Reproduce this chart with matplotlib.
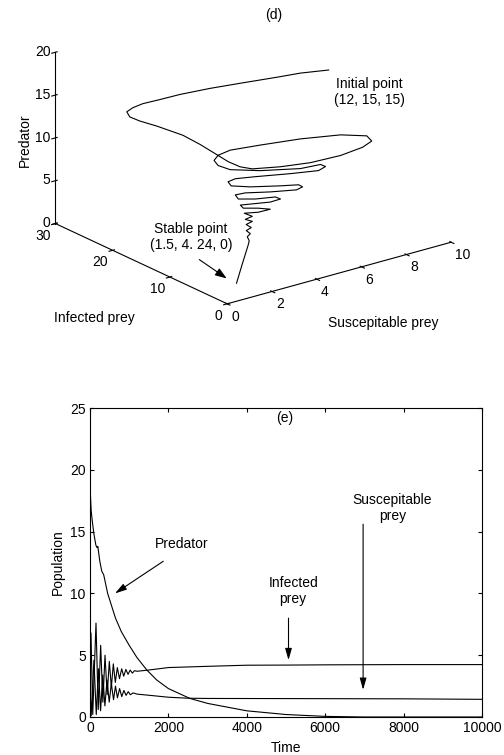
import matplotlib
matplotlib.use("Agg")
import matplotlib.pyplot as plt

plt.rcParams['font.family'] = ['Liberation Sans', 'DejaVu Sans']
plt.rcParams['font.size'] = 10

# (d) phase trajectory: susceptible prey, infected prey, predator
traj_s = [9.19, 8.26, 7.42, 6.11, 5.06, 3.95, 3.18, 2.51, 2.03, 1.67, 1.55, 1.74,
          2.12, 2.61, 2.85, 3.03, 3.17, 3.35, 3.67, 4.64, 5.79, 7.12, 8.28, 8.96,
          9.16, 8.51, 7.19, 5.74, 4.64, 4.02, 3.62, 3.48, 3.62,
          4.51, 5.87, 6.73, 6.80, 6.41, 5.49, 4.37, 3.76, 3.45, 3.34,
          3.90, 4.88, 5.51, 5.55, 5.25, 4.47, 3.78, 3.43, 3.32,
          3.85, 4.59, 4.66, 4.24, 3.61, 3.32, 3.27, 3.74, 4.07, 3.60, 3.20,
          3.29, 2.96, 3.09, 2.78, 2.79, 2.52, 2.50, 2.28, 2.19, 2.02, 1.75, 1.5]
traj_i = [18.22, 19.52, 20.26, 21.63, 22.78, 23.70, 24.20, 24.54, 24.43, 24.06, 23.07, 22.06,
          20.57, 17.94, 15.89, 13.97, 12.21, 10.84, 9.98, 8.85, 8.07, 8.02, 8.73, 9.80,
          11.44, 13.47, 15.32, 16.67, 17.62, 17.30, 16.45, 15.19, 13.64,
          11.86, 10.15, 10.02, 9.42, 9.11, 10.41, 12.17, 13.29, 13.34, 12.38,
          11.20, 9.81, 9.08, 8.54, 8.42, 9.93, 11.63, 12.00, 11.04,
          10.14, 9.53, 8.92, 9.06, 10.08, 10.69, 9.98, 9.21, 8.39, 8.65, 9.53,
          8.48, 8.42, 7.69, 7.56, 6.71, 6.52, 5.74, 5.41, 4.72, 4.23, 4.24, 4.24]
traj_p = [15.0, 14.9, 14.8, 14.6, 14.4, 14.2, 14.0, 13.9, 13.8, 13.7, 13.5, 13.2,
          12.8, 12.2, 11.6, 11.0, 10.5, 10.2, 10.0, 9.9, 9.8, 9.7, 9.6, 9.5,
          9.45, 9.4, 9.3, 9.2, 9.1, 9.05, 9.0, 8.9, 8.8,
          8.6, 8.4, 8.3, 8.2, 8.1, 8.0, 7.9, 7.75, 7.6, 7.5,
          7.35, 7.2, 7.1, 7.0, 6.9, 6.75, 6.6, 6.5, 6.4,
          6.3, 6.2, 6.1, 6.0, 5.9, 5.8, 5.7, 5.6, 5.5, 5.4, 5.3,
          5.2, 5.1, 5.0, 4.9, 4.8, 4.7, 4.6, 4.5, 4.3, 4.1, 2.0, 0.0]
s_ticks = [0, 2, 4, 6, 8, 10]
i_ticks = [0, 10, 20, 30]
p_ticks = [0, 5, 10, 15, 20]

# (e) time series
pred_t = [0, 10, 30, 60, 100, 150, 180, 200, 250, 300, 350, 450, 550, 650, 800,
          1000, 1200, 1450, 1700, 2000, 2550, 3000, 4000, 5000, 6000, 7000, 10000]
pred_v = [22, 18, 16.7, 15.8, 14.8, 13.9, 13.7, 13.8, 12.6, 11.8, 11.5, 10.0, 9.0, 8.0, 6.9,
          5.8, 4.8, 3.8, 3.0, 2.3, 1.5, 1.1, 0.5, 0.2, 0.05, 0, 0]
inf_t = [0, 25, 70, 153, 210, 272, 328, 383, 438, 493, 545, 595, 646, 697, 752, 808,
         860, 915, 970, 1025, 1080, 1135, 1200, 1500, 2000, 3000, 4000, 5000, 6000, 8000, 10000]
inf_v = [2.0, 6.8, 0.2, 7.6, 0.6, 5.8, 1.2, 5.0, 1.8, 4.5, 2.4, 4.3, 2.8, 4.0, 3.1, 3.9,
         3.3, 3.85, 3.45, 3.8, 3.55, 3.75, 3.7, 3.8, 4.0, 4.1, 4.19, 4.2, 4.22, 4.24, 4.24]
sus_t = [0, 30, 100, 160, 215, 270, 325, 380, 435, 490, 545, 600, 650, 700, 755, 810,
         865, 920, 975, 1030, 1100, 1200, 1500, 2000, 2500, 3000, 5000, 8000, 10000]
sus_v = [2.5, 0.1, 4.6, 0.2, 3.9, 0.5, 3.4, 0.9, 3.0, 1.2, 2.7, 1.4, 2.5, 1.55, 2.3, 1.65,
         2.15, 1.75, 2.05, 1.8, 1.95, 1.85, 1.76, 1.6, 1.52, 1.5, 1.49, 1.47, 1.43]

W, H = 504, 755


def fx(px):
    return px / W


def fy(py):
    return 1 - py / H


fig = plt.figure(figsize=(W / 100, H / 100), dpi=100)

# ---- (d) 3D trajectory
ax = fig.add_axes([-0.0060, 0.5893, 1.0, 0.42], projection='3d')
ax.set_proj_type('ortho')
ax.view_init(elev=21, azim=-127.5)
ax.set_box_aspect((1, 1, 0.650), zoom=1.345)
ax.plot(traj_s, traj_i, traj_p, color='k', lw=0.8)
ax.set_xlim(0, 10)
ax.set_ylim(0, 30)
ax.set_zlim(0, 20)
ax.set_xticks(s_ticks)
ax.set_xticklabels([str(v) for v in s_ticks], ha='left')
ax.set_yticks(i_ticks)
ax.set_yticklabels([str(v) for v in i_ticks], ha='right')
ax.set_zticks(p_ticks)
ax.set_zticklabels([str(v) for v in p_ticks], ha='right', va='center')
ax.xaxis.set_tick_params(pad=-5.3)
ax.yaxis.set_tick_params(pad=-5.4)
ax.zaxis.set_tick_params(pad=-6.5)
ax.grid(False)
for a in (ax.xaxis, ax.yaxis, ax.zaxis):
    a.set_pane_color((1, 1, 1, 0))
    a.pane.set_edgecolor('none')
    a.line.set_color('k')
    a.line.set_linewidth(0.8)

fig.text(fx(274), fy(15), '(d)', ha='center', va='center')
fig.text(fx(25), fy(140), 'Predator', rotation=90, ha='center', va='center')
fig.text(fx(94), fy(318), 'Infected prey', ha='center', va='center')
fig.text(fx(383), fy(323), 'Suscepitable prey', ha='center', va='center')
fig.text(fx(369), fy(92), 'Initial point\n(12, 15, 15)', ha='center', va='center',
         linespacing=1.2)
fig.text(fx(191), fy(237), 'Stable point\n(1.5, 4. 24, 0)', ha='center', va='center',
         linespacing=1.2)
fig.add_artist(matplotlib.patches.FancyArrowPatch(
    (fx(197), fy(258)), (fx(229), fy(280)), transform=fig.transFigure,
    arrowstyle='-|>,head_width=2.5,head_length=7', color='k', lw=0.8))

# ---- (e) time series
bx = fig.add_axes([90 / W, 38 / H, 392 / W, 309 / H])
bx.plot(pred_t, pred_v, color='k', lw=0.8)
bx.plot(inf_t, inf_v, color='k', lw=0.8)
bx.plot(sus_t, sus_v, color='k', lw=0.8)
bx.set_xlim(0, 10000)
bx.set_ylim(0, 25)
bx.set_xticks([0, 2000, 4000, 6000, 8000, 10000])
bx.set_yticks([0, 5, 10, 15, 20, 25])
bx.tick_params(direction='in', length=3, top=True, right=True, pad=3)
for s in bx.spines.values():
    s.set_linewidth(0.8)
bx.set_xlabel('Time', labelpad=4)
bx.set_ylabel('Population', labelpad=4)

bx.text(4970, 24.2, '(e)', ha='center', va='center')
arr = dict(arrowstyle='-|>,head_width=0.2,head_length=0.7', color='k', lw=0.8,
           shrinkA=0, shrinkB=0)
bx.annotate('', xy=(637, 10.0), xytext=(1869, 12.6), arrowprops=arr)
bx.text(2336, 14.0, 'Predator', ha='center', va='center')
bx.annotate('', xy=(5064, 4.6), xytext=(5064, 8.0), arrowprops=arr)
bx.text(5183, 10.2, 'Infected\nprey', ha='center', va='center', linespacing=1.2)
bx.annotate('', xy=(6967, 2.2), xytext=(6967, 15.6), arrowprops=arr)
bx.text(7715, 16.9, 'Suscepitable\nprey', ha='center', va='center', linespacing=1.2)

fig.savefig('out.png', dpi=100)
